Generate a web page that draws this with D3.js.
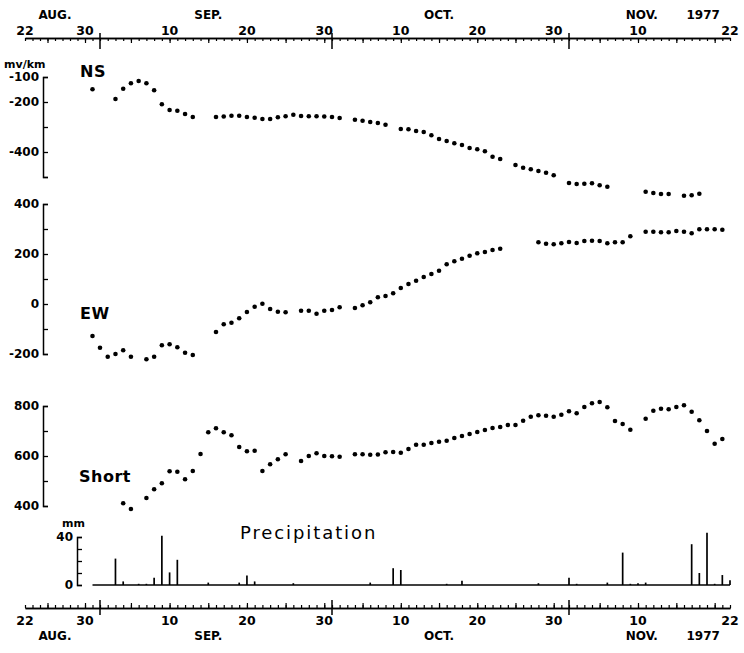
<!DOCTYPE html>
<html>
<head>
<meta charset="utf-8">
<script src="https://cdn.jsdelivr.net/npm/d3@7"></script>
<style>
  body { margin: 0; background: #fff; }
  text { font-family: "DejaVu Sans", sans-serif; fill: #000; }
</style>
</head>
<body>
<div id="chart"></div>
<script>
// Constants for the chart
const WIDTH = 744;
const HEIGHT = 653;
const START = new Date(1977, 7, 22);
const DOT_R = 2.3;
const FONT = '"DejaVu Sans", sans-serif';

// all days are counted from Aug 22, 1977
const nsDays = [9, 12, 13, 14, 15, 16, 17, 18, 19, 20, 21, 22,
  25, 26, 27, 28, 29, 30, 31, 32, 33, 34, 35, 36, 37, 38, 39, 40, 41,
  43, 44, 45, 46, 47, 49, 50, 51, 52, 53, 54, 55, 56, 57, 58, 59, 60, 61, 62,
  64, 65, 66, 67, 68, 69, 71, 72, 73, 74, 75, 76, 81, 82, 83, 84, 86, 87, 88];
const nsValues = [-149, -188, -147, -125, -116, -125, -153, -209, -232, -235, -248, -260,
  -260, -258, -255, -255, -260, -263, -268, -268, -261, -257, -251, -256, -257, -257, -258, -260, -264,
  -271, -275, -280, -284, -291, -308, -309, -316, -320, -333, -348, -356, -365, -372, -384, -389, -397, -419, -428,
  -452, -463, -469, -476, -483, -493, -524, -528, -527, -525, -533, -539, -559, -564, -568, -568, -575, -573, -567];

const ewDays = [9, 10, 11, 12, 13, 14, 16, 17, 18, 19, 20, 21, 22,
  25, 26, 27, 28, 29, 30, 31, 32, 33, 34, 36, 37, 38, 39, 40, 41,
  43, 44, 45, 46, 47, 48, 49, 50, 51, 52, 53, 54, 55, 56, 57, 58, 59, 60, 61, 62,
  67, 68, 69, 70, 71, 72, 73, 74, 75, 76, 77, 78, 79,
  81, 82, 83, 84, 85, 86, 87, 88, 89, 90, 91];
const ewValues = [-128, -175, -211, -200, -185, -211, -221, -211, -165, -161, -173, -195, -204,
  -112, -81, -75, -57, -32, -11, 1, -20, -31, -33, -27, -27, -39, -27, -24, -13,
  -16, -5, 7, 27, 32, 43, 64, 80, 93, 108, 120, 133, 159, 171, 181, 193, 203, 208, 216, 221,
  247, 241, 239, 243, 248, 244, 252, 253, 252, 243, 247, 247, 271,
  289, 289, 287, 287, 292, 289, 283, 299, 299, 299, 297];

const shortDays = [13, 14, 16, 17, 18, 19, 20, 21, 22, 23, 24, 25, 26, 27, 28, 29, 30, 31, 32, 33, 34,
  36, 37, 38, 39, 40, 41,
  43, 44, 45, 46, 47, 48, 49, 50, 51, 52, 53, 54, 55, 56, 57, 58, 59, 60, 61, 62, 63, 64,
  65, 66, 67, 68, 69, 70, 71, 72, 73, 74, 75, 76, 77, 78, 79,
  81, 82, 83, 84, 85, 86, 87, 88, 89, 90, 91];
const shortValues = [411, 388, 432, 467, 491, 539, 537, 507, 540, 608, 695, 711, 695, 683, 636, 619, 621, 540, 567, 587, 607,
  580, 600, 611, 600, 599, 597,
  607, 607, 605, 606, 615, 616, 613, 628, 645, 645, 652, 657, 661, 672, 680, 688, 696, 704, 712, 716, 724, 724,
  741, 757, 763, 761, 757, 765, 779, 771, 796, 811, 816, 795, 740, 728, 705,
  749, 781, 789, 787, 796, 803, 777, 743, 700, 649, 668];

const precipDays = [12, 13, 15, 16, 17, 18, 19, 20, 24, 28, 29, 30, 35, 45, 48, 49, 55, 57,
  67, 71, 72, 76, 78, 79, 80, 81, 87, 88, 89, 90, 91, 92];
const precipValues = [22, 3, 1, 1, 6, 41, 10.5, 21, 2, 2, 8, 3, 1.5, 2, 14, 12.5, 1, 3.6,
  1.5, 6, 1, 2, 27, 1, 1.5, 2, 34, 10, 43.6, 1, 8.3, 4];

// axis labels
const dayLabelDays = [0, 8, 19, 29, 39, 49, 59, 69, 80, 92];
const dayLabels = ['22', '30', '10', '20', '30', '10', '20', '30', '10', '22'];
const monthLabelDays = [4, 24, 54, 80.5, 88.5];
const monthLabels = ['AUG.', 'SEP.', 'OCT.', 'NOV.', '1977'];

const dayToDate = d => d3.timeHour.offset(START, Math.round(d * 24));

let svg, xScale;

setup();

function setup () {
  svg = d3.select('#chart')
    .append('svg')
    .attr('width', WIDTH)
    .attr('height', HEIGHT);

  // the hand drawn axis is a little uneven, so pin the month starts
  xScale = d3.scaleTime()
    .domain([START, new Date(1977, 8, 1), new Date(1977, 9, 1), new Date(1977, 10, 1), new Date(1977, 10, 22)])
    .range([25, 100, 332, 569, 730]);

  drawTimeAxis(38, 'top');
  drawTimeAxis(608, 'bottom');

  // NS panel
  const yNS = d3.scaleLinear().domain([-100, -500]).range([77, 177]);
  drawValueAxis(yNS, 43, d3.range(-100, -501, -100), [-100, -200, -400]);
  drawDots(nsDays, nsValues, yNS);
  svg.append('text').attr('x', 4).attr('y', 68)
    .attr('font-size', 11).attr('font-weight', 'bold').text('mv/km');
  drawPanelLabel('NS', 80, 77);

  // EW panel
  const yEW = d3.scaleLinear().domain([400, -200]).range([204, 354]);
  drawValueAxis(yEW, 43, d3.range(400, -201, -100), [400, 200, 0, -200]);
  drawDots(ewDays, ewValues, yEW);
  drawPanelLabel('EW', 80, 319);

  // Short panel
  const yShort = d3.scaleLinear().domain([800, 400]).range([406, 506]);
  drawValueAxis(yShort, 43, d3.range(800, 399, -100), [800, 600, 400]);
  drawDots(shortDays, shortValues, yShort);
  drawPanelLabel('Short', 79, 482);

  // Precipitation panel
  const yPrecip = d3.scaleLinear().domain([0, 40]).range([585, 537]);
  drawValueAxis(yPrecip, 77, [0, 10, 20, 30, 40], [0, 40]);
  drawPrecip(yPrecip);
  svg.append('text').attr('x', 62).attr('y', 527)
    .attr('font-size', 11).attr('font-weight', 'bold').text('mm');
  svg.append('text').attr('x', 240).attr('y', 539)
    .attr('font-size', 18).attr('letter-spacing', 1.9).text('Precipitation');
}

/**
 * Date axis with a tick for every day, longer ticks every 5 days
 * and a long cross tick at each month start
 */
function drawTimeAxis (y, side) {
  const days = d3.timeDay.range(START, d3.timeDay.offset(START, 93));
  const fives = days.filter(d => d.getDate() % 5 === 0);
  const months = d3.timeMonth.range(new Date(1977, 8, 1), new Date(1977, 10, 2));
  const makeAxis = side === 'top' ? d3.axisBottom : d3.axisTop;

  const g = svg.append('g').attr('transform', `translate(0, ${y})`);
  g.append('g').call(makeAxis(xScale).tickValues(days).tickSize(3).tickSizeOuter(0).tickFormat(''));
  g.append('g').call(makeAxis(xScale).tickValues(fives).tickSize(5).tickSizeOuter(0).tickFormat(''));
  g.selectAll('.domain').attr('stroke-width', 1.5);
  g.selectAll('.tick line').attr('stroke-width', 1.2);

  const up = side === 'top' ? -5 : -8;
  const down = side === 'top' ? 11 : 7;
  g.selectAll('line.month')
    .data(months)
    .enter()
    .append('line')
    .attr('class', 'month')
    .attr('x1', d => xScale(d))
    .attr('x2', d => xScale(d))
    .attr('y1', up)
    .attr('y2', down)
    .attr('stroke', '#000')
    .attr('stroke-width', 1.5);

  const dayY = side === 'top' ? -3 : 17;
  const monthY = side === 'top' ? -19 : 32;
  g.selectAll('text.day')
    .data(dayLabelDays)
    .enter()
    .append('text')
    .attr('class', 'day')
    .attr('x', d => xScale(dayToDate(d)))
    .attr('y', dayY)
    .attr('text-anchor', 'middle')
    .attr('font-size', 12.5)
    .attr('font-weight', 'bold')
    .text((d, i) => dayLabels[i]);

  g.selectAll('text.month')
    .data(monthLabelDays)
    .enter()
    .append('text')
    .attr('class', 'month')
    .attr('x', d => xScale(dayToDate(d)))
    .attr('y', monthY)
    .attr('text-anchor', 'middle')
    .attr('font-size', 12)
    .attr('font-weight', 'bold')
    .text((d, i) => monthLabels[i]);
}

/**
 * Left value axis drawn as a bracket, ticks turned inwards
 */
function drawValueAxis (yScale, x, ticks, labelled) {
  const axis = d3.axisLeft(yScale)
    .tickValues(ticks)
    .tickSizeInner(-5)
    .tickSizeOuter(-5)
    .tickPadding(4)
    .tickFormat(d => labelled.includes(d) ? d : '');

  const g = svg.append('g')
    .attr('transform', `translate(${x}, 0)`)
    .call(axis);
  g.selectAll('.domain').attr('stroke-width', 1.5);
  g.selectAll('.tick line').attr('stroke-width', 1.3);
  g.selectAll('text')
    .attr('font-size', 12)
    .attr('font-weight', 'bold')
    .attr('font-family', FONT);
}

function drawDots (days, values, yScale) {
  svg.append('g')
    .selectAll('circle')
    .data(days)
    .enter()
    .append('circle')
    .attr('cx', d => xScale(dayToDate(d)))
    .attr('cy', (d, i) => yScale(values[i]))
    .attr('r', DOT_R)
    .attr('fill', '#000');
}

function drawPanelLabel (label, x, y) {
  svg.append('text')
    .attr('x', x)
    .attr('y', y)
    .attr('font-size', 16)
    .attr('font-weight', 'bold')
    .attr('letter-spacing', 0.5)
    .text(label);
}

/**
 * Daily precipitation as thin vertical bars over a base line
 */
function drawPrecip (yScale) {
  svg.append('line')
    .attr('x1', xScale(dayToDate(9)))
    .attr('x2', xScale(dayToDate(92)))
    .attr('y1', yScale(0))
    .attr('y2', yScale(0))
    .attr('stroke', '#000')
    .attr('stroke-width', 1.5);

  svg.append('g')
    .selectAll('line')
    .data(precipDays)
    .enter()
    .append('line')
    .attr('x1', d => xScale(dayToDate(d)))
    .attr('x2', d => xScale(dayToDate(d)))
    .attr('y1', yScale(0))
    .attr('y2', (d, i) => yScale(precipValues[i]))
    .attr('stroke', '#000')
    .attr('stroke-width', 1.7);
}
</script>
</body>
</html>
